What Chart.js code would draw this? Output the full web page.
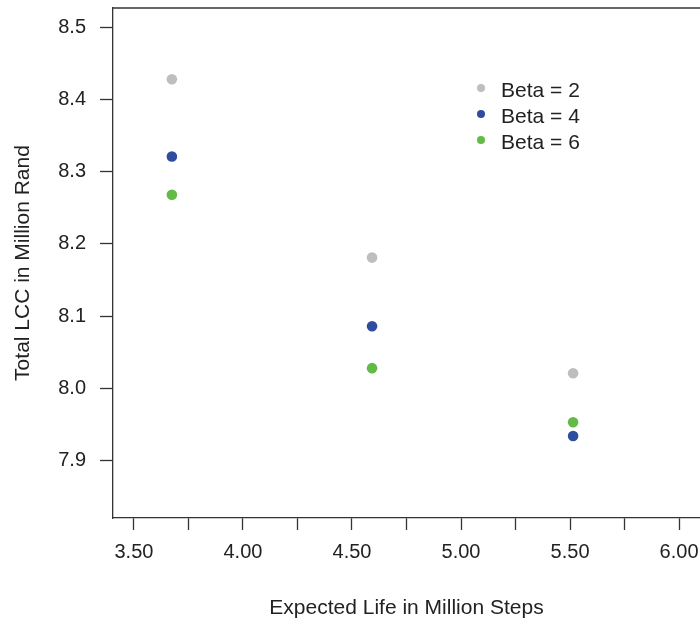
<!DOCTYPE html>
<html lang="en">
<head>
    <meta charset="UTF-8">
    <title>Total LCC vs Expected Life</title>
    <script src="https://cdn.jsdelivr.net/npm/chart.js"></script>
    <style>
        body {
            margin: 0;
            padding: 0;
            background: #ffffff;
        }
        canvas {
            display: block;
        }
    </style>
</head>
<body>
    <canvas id="lccChart" width="700" height="625"></canvas>

    <script>
        // values
        const lifeValues = [3.674, 4.592, 5.514];
        const beta2 = [8.428, 8.181, 8.021];
        const beta4 = [8.321, 8.086, 7.934];
        const beta6 = [8.268, 8.028, 7.953];
        const seriesLabels = ["Beta = 2", "Beta = 4", "Beta = 6"];
        const seriesColors = ["#bebebe", "#2f4d9e", "#62bb46"];

        const xMin = 3.404, xMax = 6.096;
        const yMin = 7.8205, yMax = 8.5266;

        const axisColor = "#333333";
        const textColor = "#222222";
        const fontFamily = "'Liberation Sans', Arial, sans-serif";

        function toPoints(ys) {
            return lifeValues.map((x, i) => ({x: x, y: ys[i]}));
        }

        const allSeries = [beta2, beta4, beta6];

        // top frame line and the legend, drawn like R does it
        const framePlugin = {
            id: "frame",
            afterDraw(chart) {
                const ctx = chart.ctx;
                const area = chart.chartArea;
                ctx.save();
                ctx.strokeStyle = axisColor;
                ctx.lineWidth = 1.3;
                ctx.beginPath();
                ctx.moveTo(area.left, area.top);
                ctx.lineTo(area.right, area.top);
                ctx.stroke();

                ctx.font = "21px " + fontFamily;
                ctx.textBaseline = "middle";
                ctx.textAlign = "left";
                seriesLabels.forEach((label, i) => {
                    const y = 88 + i * 26;
                    ctx.fillStyle = seriesColors[i];
                    ctx.beginPath();
                    ctx.arc(481, y, 4, 0, Math.PI * 2);
                    ctx.fill();
                    ctx.fillStyle = textColor;
                    ctx.fillText(label, 501, y + 3);
                });
                ctx.restore();
            }
        };

        const ctx = document.getElementById("lccChart").getContext("2d");
        new Chart(ctx, {
            type: "scatter",
            data: {
                datasets: allSeries.map((ys, i) => ({
                    label: seriesLabels[i],
                    data: toPoints(ys),
                    backgroundColor: seriesColors[i],
                    borderColor: seriesColors[i],
                    pointRadius: 5.3,
                    pointBorderWidth: 0,
                    showLine: false
                }))
            },
            options: {
                responsive: false,
                animation: false,
                layout: {
                    autoPadding: false,
                    padding: {top: 8, left: 0, right: 0, bottom: 0}
                },
                plugins: {
                    legend: {display: false},
                    tooltip: {enabled: false}
                },
                scales: {
                    x: {
                        type: "linear",
                        min: xMin,
                        max: xMax,
                        afterFit(scale) {
                            scale.height = 107;
                            scale.paddingLeft = 0;
                            scale.paddingRight = 0;
                        },
                        border: {display: true, color: axisColor, width: 1.3},
                        grid: {
                            drawOnChartArea: false,
                            drawTicks: true,
                            tickLength: 12,
                            tickColor: axisColor,
                            tickWidth: 1.3
                        },
                        ticks: {
                            stepSize: 0.25,
                            includeBounds: false,
                            autoSkip: false,
                            maxRotation: 0,
                            padding: 10,
                            color: textColor,
                            font: {family: fontFamily, size: 20},
                            callback: function (value) {
                                const v = Math.round(value * 100) / 100;
                                return Math.abs(v * 2 - Math.round(v * 2)) < 1e-6 ? v.toFixed(2) : "";
                            }
                        },
                        title: {
                            display: true,
                            text: "Expected Life in Million Steps",
                            color: textColor,
                            font: {family: fontFamily, size: 21},
                            padding: {top: 0, bottom: 4}
                        }
                    },
                    y: {
                        type: "linear",
                        min: yMin,
                        max: yMax,
                        afterFit(scale) {
                            scale.width = 113;
                            scale.paddingTop = 0;
                            scale.paddingBottom = 0;
                        },
                        border: {display: true, color: axisColor, width: 1.3},
                        grid: {
                            drawOnChartArea: false,
                            drawTicks: true,
                            tickLength: 13,
                            tickColor: axisColor,
                            tickWidth: 1.3
                        },
                        ticks: {
                            stepSize: 0.1,
                            includeBounds: false,
                            padding: 14,
                            color: textColor,
                            font: {family: fontFamily, size: 20},
                            callback: function (value) {
                                return (Math.round(value * 10) / 10).toFixed(1);
                            }
                        },
                        title: {
                            display: true,
                            text: "Total LCC in Million Rand",
                            color: textColor,
                            font: {family: fontFamily, size: 21},
                            padding: {top: 11, bottom: 0}
                        }
                    }
                }
            },
            plugins: [framePlugin]
        });
    </script>
</body>
</html>
